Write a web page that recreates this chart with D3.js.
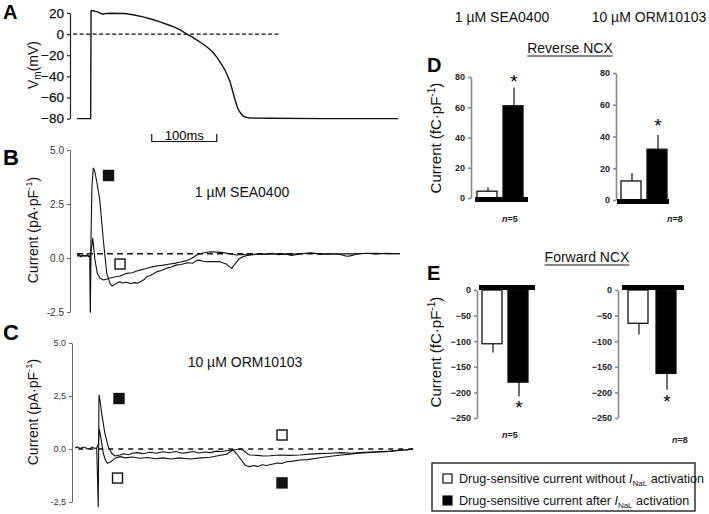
<!DOCTYPE html>
<html>
<head>
<meta charset="utf-8">
<script src="https://cdnjs.cloudflare.com/ajax/libs/d3/7.8.5/d3.min.js"></script>
<style>
  body { margin: 0; background: #fff; }
  svg { display: block; font-family: Arial, "Liberation Sans", sans-serif; }
</style>
</head>
<body>
<svg id="fig" width="709" height="514"></svg>
<script>
// ---- data (time in ms, Vm in mV, current in pA/pF or fC/pF) ----
const apTicks = [20, 0, -20, -40, -60, -80];
const apTrace = [[0,-80],[21,-80],[21.6,22],[24.6,22.2],[28,21.5],[32,21],[36,19.5],[40,18.7],[44.6,19.5],[55,19.6],[65,19.5],[73.8,19.4],[88,18],[101.5,16.3],[115,14],[127.7,11.5],[140,8.8],[150.8,6.3],[160,3.4],[169,0],[177,-2.7],[184.6,-5.7],[192,-8.7],[200,-12.3],[208,-16.5],[215.4,-22],[222,-28.5],[227.7,-34],[232,-40],[235.4,-45],[239,-53],[243,-62],[247,-70],[250.8,-74],[254.5,-77],[258.5,-78.5],[266,-79.5],[300,-79.7],[380,-80],[494,-80]];

const currentTicks = [5, 2.5, 0, -2.5];
const ormTickLabels = ["5.0", "2,5", "0.0", "-2,5"];

// 1 uM SEA0400: drug-sensitive current after / without INaL activation
const seaAfter = [[0,0.1],[3,0.18],[6,0.05],[9,0.14],[12,0.08],[15,0.16],[18,0.06],[20,0.1],[20.6,-2.5],[21.2,0.3],[23,3.3],[25,4.17],[27,4.05],[30,3.6],[35,2.7],[40.5,0.83],[45.7,-0.7],[51,-1.2],[54,-1.3],[58,-1.22],[62,-1.15],[66,-1.1],[70,-1.16],[76,-1.12],[82,-1.18],[88,-1.14],[94,-1.16],[99,-1.08],[104,-0.98],[107,-0.87],[112,-0.82],[117,-0.74],[123,-0.63],[130,-0.58],[138,-0.47],[145,-0.42],[152,-0.33],[160,-0.3],[170,-0.22],[178,-0.24],[184,-0.12],[189,-0.1],[194,-0.15],[199.5,-0.17],[210,-0.16],[220,-0.17],[226,-0.24],[230,-0.28],[234,-0.4],[238,-0.48],[241,-0.35],[243,-0.28],[249,-0.05],[255,0.06],[262,0.12],[270,0.15],[280,0.2],[290,0.16],[300,0.22],[310,0.15],[320,0.19],[330,0.12],[345,0.2],[360,0.24],[375,0.18],[390,0.2],[405,0.16],[415,0.08],[420,0.1],[430,0.17],[445,0.22],[460,0.18],[475,0.22],[497,0.2]];
const seaWithout = [[0,0.1],[20,0.1],[20.6,-2.5],[21.2,0.2],[24.2,0.91],[27.7,-0.1],[31.3,-0.71],[35.4,-0.94],[40.5,-1.02],[45,-0.98],[50.8,-0.93],[58,-0.88],[66,-0.83],[72,-0.76],[76.5,-0.71],[85,-0.68],[92,-0.6],[97,-0.56],[105,-0.5],[112,-0.44],[117,-0.4],[125,-0.36],[133,-0.33],[143,-0.28],[150,-0.25],[158,-0.2],[169,-0.12],[176,-0.02],[184,0.14],[192,0.22],[205,0.29],[215,0.27],[225,0.25],[235,0.2],[245.7,0.14],[255,0.16],[266,0.15],[280,0.18],[300,0.2],[320,0.17],[340,0.2],[360,0.22],[380,0.18],[400,0.2],[420,0.19],[440,0.21],[460,0.22],[480,0.19],[497,0.2]];

// 10 uM ORM10103
const ormAfter = [[0,0.05],[4,0.1],[8,0.02],[12,0.08],[15.4,0.08],[19,0],[23,0.02],[27,0.09],[30,0.03],[33.4,0.05],[35.8,-2.72],[36.9,2.55],[38.5,2.3],[41,1.68],[46,0.74],[51.2,0.11],[56.5,-0.2],[61.5,-0.33],[69,-0.28],[75,-0.22],[82,-0.27],[88,-0.2],[95,-0.17],[105,-0.22],[115,-0.15],[125,-0.2],[135,-0.13],[145,-0.18],[155,-0.12],[165,-0.2],[172,-0.17],[182,-0.12],[190,-0.19],[200,-0.14],[208,-0.17],[218,-0.1],[225,-0.12],[233,-0.08],[243,-0.05],[248,-0.2],[254,-0.44],[258,-0.6],[261.5,-0.75],[265,-0.8],[269,-0.83],[275,-0.78],[281.5,-0.83],[288,-0.74],[295,-0.78],[304.6,-0.71],[312,-0.66],[318,-0.68],[325.7,-0.6],[335,-0.57],[346,-0.52],[358,-0.5],[371.8,-0.44],[385,-0.38],[397,-0.33],[410,-0.28],[423,-0.24],[435,-0.2],[448.8,-0.17],[463,-0.15],[479.5,-0.13],[495,-0.08],[508,-0.05],[520,0]];
const ormWithout = [[33.4,0.05],[36,0.25],[37.4,0.93],[40,0.5],[43.5,-0.2],[46.5,-0.5],[49.7,-0.67],[55,-0.6],[61.5,-0.44],[69,-0.36],[78,-0.42],[88,-0.38],[100,-0.44],[112,-0.4],[124,-0.46],[135,-0.42],[148,-0.47],[160,-0.42],[176.9,-0.47],[190,-0.43],[208,-0.39],[220,-0.32],[233.4,-0.24],[238,-0.15],[243,-0.05],[254,0],[258,-0.05],[261.5,-0.13],[265,-0.22],[269,-0.28],[280,-0.3],[290,-0.33],[300,-0.32],[315,-0.28],[330,-0.3],[346,-0.28],[360,-0.24],[375,-0.22],[392,-0.2],[410,-0.17],[425,-0.2],[438,-0.17],[455,-0.14],[470,-0.12],[485,-0.1],[500,-0.05],[510,-0.04],[520,0]];

// trace labels (open = without INaL, filled = after INaL)
const seaMarkers = [{t: 48.5, v: 3.82, filled: true}, {t: 66.2, v: -0.28, filled: false}];
const ormMarkers = [{t: 67.7, v: 2.38, filled: true}, {t: 65.4, v: -1.37, filled: false},
                    {t: 318.5, v: 0.66, filled: false}, {t: 318.5, v: -1.6, filled: true}];

// charge (fC/pF), mean and SEM
const barGroups = ["without", "after"];
const reverseTicks = [0, 20, 40, 60, 80];
const forwardTicks = [0, -50, -100, -150, -200, -250];
const reverseSEA = [4.5, 61], reverseSEAErr = [2.5, 12];
const reverseORM = [12, 32], reverseORMErr = [5, 9];
const forwardSEA = [-105, -180], forwardSEAErr = [17, 28];
const forwardORM = [-65, -163], forwardORMErr = [22, 32];
const nLabels = ["5", "8"];

const svg = d3.select("#fig");
svg.append("rect").attr("width", 709).attr("height", 514).attr("fill", "#fff");

const line = (x, y) => d3.line().x(d => x(d[0])).y(d => y(d[1]));

// rotated y label with superscript -1
function yLabel(cx, cy, before, size) {
  const t = svg.append("text")
    .attr("transform", `translate(${cx},${cy}) rotate(-90)`)
    .attr("text-anchor", "middle")
    .attr("font-size", size)
    .attr("fill", "#111");
  t.append("tspan").text(before);
  t.append("tspan").attr("dy", -size * 0.4).attr("font-size", size * 0.68).text("-1");
  t.append("tspan").attr("dy", size * 0.4).text(")");
}

function panelLetter(x, y, s, size) {
  svg.append("text").attr("x", x).attr("y", y).attr("font-size", size)
    .attr("font-weight", "bold").text(s);
}

// ---------- A: action potential ----------
const ax = d3.scaleLinear([0, 500], [77, 402]);
const ay = d3.scaleLinear([-80, 20], [118.6, 12.9]);
svg.append("g")
  .attr("transform", "translate(70,0)")
  .call(d3.axisLeft(ay).tickValues(apTicks).tickSize(3).tickSizeOuter(0).tickPadding(3))
  .call(g => g.selectAll("text").attr("font-size", 13.5).attr("font-family", null)
    .attr("fill", "#111").attr("stroke", "#111").attr("stroke-width", 0.25))
  .call(g => g.selectAll("path,line").attr("stroke", "#222").attr("stroke-width", 1.2));

svg.append("line")
  .attr("x1", ax(-6)).attr("x2", ax(310)).attr("y1", ay(0)).attr("y2", ay(0))
  .attr("stroke", "#111").attr("stroke-width", 1.3).attr("stroke-dasharray", "4,2.5");

svg.append("path").datum(apTrace)
  .attr("d", line(ax, ay)).attr("fill", "none").attr("stroke", "#111").attr("stroke-width", 1.4);

// 100 ms scale bar
const sb = svg.append("g").attr("stroke", "#111").attr("stroke-width", 1.2).attr("fill", "none");
sb.append("path").attr("d", `M${ax(115)},134V141.5H${ax(215)}V134`);
svg.append("text").attr("x", ax(165)).attr("y", 140).attr("text-anchor", "middle")
  .attr("font-size", 13).text("100ms");

const vm = svg.append("text")
  .attr("transform", "translate(38,65) rotate(-90)")
  .attr("text-anchor", "middle").attr("font-size", 14).attr("fill", "#111");
vm.append("tspan").text("V");
vm.append("tspan").attr("dy", 3).attr("font-size", 10).text("m");
vm.append("tspan").attr("dy", -3).text("(mV)");
panelLetter(3, 19, "A", 20);

// ---------- B and C: current traces ----------
function tracePanel(cfg) {
  const x = d3.scaleLinear([0, 500], [cfg.x0, cfg.x0 + 325]);
  const y = d3.scaleLinear([-2.5, 5], cfg.yRange);
  svg.append("g")
    .attr("transform", `translate(${cfg.axisX},0)`)
    .call(d3.axisLeft(y).tickValues(currentTicks).tickSize(3).tickSizeOuter(0).tickPadding(3)
      .tickFormat((d, i) => cfg.tickLabels[i]))
    .call(g => g.selectAll("text").attr("font-size", cfg.tickSize).attr("font-family", null).attr("fill", "#333"))
    .call(g => g.selectAll("path,line").attr("stroke", "#666").attr("stroke-width", 1));

  svg.append("line")
    .attr("x1", x(cfg.dash[0])).attr("x2", x(cfg.dash[1]))
    .attr("y1", y(cfg.dash[2])).attr("y2", y(cfg.dash[2]))
    .attr("stroke", "#111").attr("stroke-width", cfg.dashW).attr("stroke-dasharray", cfg.dashArr);

  cfg.traces.forEach(tr => {
    svg.append("path").datum(tr)
      .attr("d", line(x, y)).attr("fill", "none")
      .attr("stroke", "#111").attr("stroke-width", 1.1).attr("stroke-linejoin", "round");
  });

  svg.selectAll(null).data(cfg.markers).join("rect")
    .attr("x", d => x(d.t) - 5).attr("y", d => y(d.v) - 5)
    .attr("width", 10).attr("height", 10)
    .attr("fill", d => d.filled ? "#111" : "#fff")
    .attr("stroke", "#111").attr("stroke-width", 1.4);

  svg.append("text").attr("x", cfg.title[0]).attr("y", cfg.title[1])
    .attr("text-anchor", "middle").attr("font-size", 14).attr("fill", "#111").text(cfg.title[2]);
}

tracePanel({
  x0: 77, axisX: 70, yRange: [312, 150], tickLabels: ["5.0", "2.5", "0.0", "-2.5"], tickSize: 10,
  dash: [0, 390, 0.2], dashW: 1.6, dashArr: "6,4",
  traces: [seaWithout, seaAfter], markers: seaMarkers,
  title: [242, 197, "1 \u00b5M SEA0400"]
});
tracePanel({
  x0: 75, axisX: 72, yRange: [502, 343], tickLabels: ormTickLabels, tickSize: 9,
  dash: [5, 520, 0], dashW: 1.3, dashArr: "5,5",
  traces: [ormWithout, ormAfter], markers: ormMarkers,
  title: [245, 367, "10 \u00b5M ORM10103"]
});
yLabel(38, 230, "Current (pA\u00b7pF", 14);
yLabel(38, 412, "Current (pA\u00b7pF", 14);
panelLetter(3, 165, "B", 22);
panelLetter(3, 340, "C", 22);

// ---------- D and E: charge bars ----------
function barPanel(cfg) {
  const y = d3.scaleLinear(cfg.yDomain, cfg.yRange);
  const x = d3.scaleBand().domain(barGroups).range(cfg.band)
    .paddingInner(cfg.padIn).paddingOuter(cfg.padOut);
  const g = svg.append("g");
  g.append("g")
    .attr("transform", `translate(${cfg.axisX},0)`)
    .call(d3.axisLeft(y).tickValues(cfg.ticks).tickSize(3).tickSizeOuter(0).tickPadding(3))
    .call(a => a.selectAll("text").attr("font-size", 9).attr("font-weight", "bold")
      .attr("font-family", null).attr("fill", "#222"))
    .call(a => a.selectAll("path,line").attr("stroke", "#8a8a8a").attr("stroke-width", 1.6));

  const rows = barGroups.map((k, i) => ({k, v: cfg.vals[i], e: cfg.errs[i]}));
  // error bars
  g.selectAll(null).data(rows).join("line")
    .attr("x1", d => x(d.k) + x.bandwidth() / 2 + 1).attr("x2", d => x(d.k) + x.bandwidth() / 2 + 1)
    .attr("y1", d => y(d.v)).attr("y2", d => y(d.v + Math.sign(d.v) * d.e))
    .attr("stroke", "#111").attr("stroke-width", 1.2);
  g.selectAll(null).data(rows).join("rect")
    .attr("x", d => x(d.k)).attr("width", x.bandwidth())
    .attr("y", d => y(Math.max(0, d.v))).attr("height", d => Math.abs(y(d.v) - y(0)))
    .attr("fill", (d, i) => i ? "#000" : "#fff").attr("stroke", "#111").attr("stroke-width", 1.3);
  // thick baseline
  const up = cfg.yDomain[0] === 0;
  g.append("rect")
    .attr("x", cfg.base[0]).attr("width", cfg.base[1] - cfg.base[0])
    .attr("y", up ? y(0) - 1 : y(0) - 5).attr("height", 5).attr("fill", "#000");
  // significance star on the "after" bar
  const a = rows[1];
  const tip = y(a.v + Math.sign(a.v) * a.e);
  g.append("text")
    .attr("x", x(a.k) + x.bandwidth() / 2 + 1)
    .attr("y", up ? tip - cfg.starGap + 10 : tip + cfg.starGap + 10)
    .attr("text-anchor", "middle").attr("font-size", 19).text("*");
  const n = g.append("text").attr("x", cfg.n[0]).attr("y", cfg.n[1])
    .attr("text-anchor", "middle").attr("font-size", 9).attr("font-weight", "bold").attr("fill", "#222");
  n.append("tspan").attr("font-style", "italic").text("n");
  n.append("tspan").text("=" + cfg.n[2]);
}

barPanel({ yDomain: [0, 80], yRange: [198, 77], axisX: 471, ticks: reverseTicks,
  band: [474, 526], padIn: 0.23, padOut: 0.115, vals: reverseSEA, errs: reverseSEAErr,
  base: [475, 528], starGap: 10, n: [510, 222, nLabels[0]] });
barPanel({ yDomain: [0, 80], yRange: [200, 73], axisX: 616, ticks: reverseTicks,
  band: [618, 670], padIn: 0.23, padOut: 0.115, vals: reverseORM, errs: reverseORMErr,
  base: [617, 669], starGap: 13, n: [675, 222, nLabels[1]] });
barPanel({ yDomain: [-250, 0], yRange: [418, 290], axisX: 477, ticks: forwardTicks,
  band: [479, 531], padIn: 0.23, padOut: 0.115, vals: forwardSEA, errs: forwardSEAErr,
  base: [479, 535], starGap: 8, n: [510, 438, nLabels[0]] });
barPanel({ yDomain: [-250, 0], yRange: [418, 290], axisX: 618, ticks: forwardTicks,
  band: [624, 680], padIn: 0.286, padOut: 0.143, vals: forwardORM, errs: forwardORMErr,
  base: [622, 684], starGap: 8, n: [680, 443, nLabels[1]] });

// headings
[[502, 22, "1 \u00b5M SEA0400"], [649, 22, "10 \u00b5M ORM10103"]].forEach(d =>
  svg.append("text").attr("x", d[0]).attr("y", d[1]).attr("text-anchor", "middle")
    .attr("font-size", 14).attr("fill", "#111").text(d[2]));
[[570, 53, "Reverse NCX"], [587, 262, "Forward NCX"]].forEach(d => {
  const t = svg.append("text").attr("x", d[0]).attr("y", d[1]).attr("text-anchor", "middle")
    .attr("font-size", 14).attr("fill", "#111").text(d[2]);
  const w = t.node().getComputedTextLength();
  svg.append("line").attr("x1", d[0] - w / 2).attr("x2", d[0] + w / 2)
    .attr("y1", d[1] + 3).attr("y2", d[1] + 3).attr("stroke", "#111").attr("stroke-width", 1);
});
yLabel(441, 138, "Current  (fC\u00b7pF", 15);
yLabel(441, 352, "Current  (fC\u00b7pF", 15);
panelLetter(427, 72, "D", 20);
panelLetter(427, 280, "E", 20);

// ---------- legend ----------
const lg = svg.append("g");
lg.append("rect").attr("x", 432).attr("y", 463).attr("width", 263).attr("height", 48)
  .attr("fill", "#fff").attr("stroke", "#111").attr("stroke-width", 1.3);
[["without", 478.5, false], ["after", 500.5, true]].forEach(([word, cy, filled]) => {
  lg.append("rect").attr("x", 443).attr("y", cy - 4.5).attr("width", 9).attr("height", 9)
    .attr("fill", filled ? "#000" : "#fff").attr("stroke", "#111").attr("stroke-width", 1.2);
  const t = lg.append("text").attr("x", 459).attr("y", cy + 4.5).attr("font-size", 12.6).attr("fill", "#111");
  t.append("tspan").text(`Drug-sensitive current ${word} `);
  t.append("tspan").attr("font-style", "italic").text("I");
  t.append("tspan").attr("font-size", 8).attr("dy", 2.5).text("NaL");
  t.append("tspan").attr("dy", -2.5).text(" activation");
});
</script>
</body>
</html>
